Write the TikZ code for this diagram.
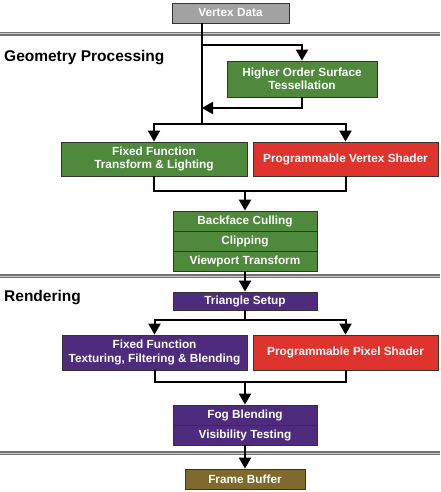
\documentclass[tikz,border=0pt]{standalone}
\usepackage{xcolor}
\usepackage{fontspec}
\setmainfont{Liberation Sans}
\usepackage{tikz}
\usetikzlibrary{arrows.meta}

\definecolor{geomgreen}{HTML}{4F8A3C}
\definecolor{shadered}{HTML}{DF332E}
\definecolor{rendpurple}{HTML}{4E2B7D}
\definecolor{bufolive}{HTML}{7D6A2C}
\definecolor{datagray}{HTML}{A2A2A2}

\tikzset{
	stage/.style={draw=black!80, line width=0.8pt, text=white, font=\bfseries\fontsize{11.8}{13.5}\selectfont,
		align=center, inner sep=0pt, minimum width=#1},
	stage/.default=144pt,
	flow/.style={line width=2pt, -{Triangle[length=11pt,width=12pt]}},
	wire/.style={line width=2pt},
	divider/.style={draw=black!55, double=black!20, double distance=1pt, line width=1.1pt},
	heading/.style={anchor=west, font=\bfseries\fontsize{15.5}{17}\selectfont, inner sep=0pt}
}

\begin{document}
\begin{tikzpicture}[x=1pt, y=-1pt]
	\useasboundingbox (0,0) rectangle (440,492);

	% pipeline stages
	\node[stage=117pt, fill=datagray, minimum height=20pt] (vd) at (230.5,13) {Vertex Data};
	\node[stage=150pt, fill=geomgreen, minimum height=36pt] (hos) at (302,79) {Higher Order Surface\\Tessellation};
	\node[stage=186pt, fill=geomgreen, minimum height=34pt] (fftl) at (154,159) {Fixed Function\\Transform \& Lighting};
	\node[stage=185pt, fill=shadered, minimum height=34pt] (pvs) at (345.5,159) {Programmable Vertex Shader};
	\node[stage, fill=geomgreen, minimum height=20pt] (bfc) at (245,221) {Backface Culling};
	\node[stage, fill=geomgreen, minimum height=20pt] (clip) at (245,241) {Clipping};
	\node[stage, fill=geomgreen, minimum height=20pt] (vpt) at (245,261) {Viewport Transform};
	\node[stage, fill=rendpurple, minimum height=18pt] (ts) at (245,301) {Triangle Setup};
	\node[stage=185pt, fill=rendpurple, minimum height=35pt] (fftex) at (154.5,352.5) {Fixed Function\\Texturing, Filtering \& Blending};
	\node[stage=185pt, fill=shadered, minimum height=35pt] (pps) at (345.5,352.5) {Programmable Pixel Shader};
	\node[stage, fill=rendpurple, minimum height=20pt] (fog) at (245,415) {Fog Blending};
	\node[stage, fill=rendpurple, minimum height=20pt] (vis) at (245,435) {Visibility Testing};
	\node[stage=120pt, fill=bufolive, minimum height=20pt] (fb) at (245,479) {Frame Buffer};

	% section headings
	\node[heading] (geom) at (4,58) {Geometry Processing};
	\node[heading] (rend) at (4,298) {Rendering};

	% dividers
	\draw[divider] (0,34) -- (440,34);
	\draw[divider] (0,276) -- (440,276);
	\draw[divider] (0,453) -- (440,453);

	% branch points
	\coordinate (tap) at (202,45);
	\coordinate (rejoin) at (202,108);
	\coordinate (fork1) at (202,124);
	\coordinate (merge1) at (245,191);
	\coordinate (fork2) at (245,320);
	\coordinate (merge2) at (245,382);

	% connectors
	\draw[wire] (vd.south -| tap) -- (fork1);
	\draw[flow] (tap) -| (hos.north);
	\draw[flow] (hos.south) |- (rejoin);
	\draw[flow] (fork1) -| (fftl.north);
	\draw[flow] (fork1) -| (pvs.north);
	\draw[wire] (fftl.south) |- (merge1) -| (pvs.south);
	\draw[flow] (merge1) -- (bfc.north);
	\draw[flow] (vpt.south) -- (ts.north);
	\draw[wire] (ts.south) -- (fork2);
	\draw[flow] (fork2) -| (fftex.north);
	\draw[flow] (fork2) -| (pps.north);
	\draw[wire] (fftex.south) |- (merge2) -| (pps.south);
	\draw[flow] (merge2) -- (fog.north);
	\draw[flow] (vis.south) -- (fb.north);
\end{tikzpicture}
\end{document}
